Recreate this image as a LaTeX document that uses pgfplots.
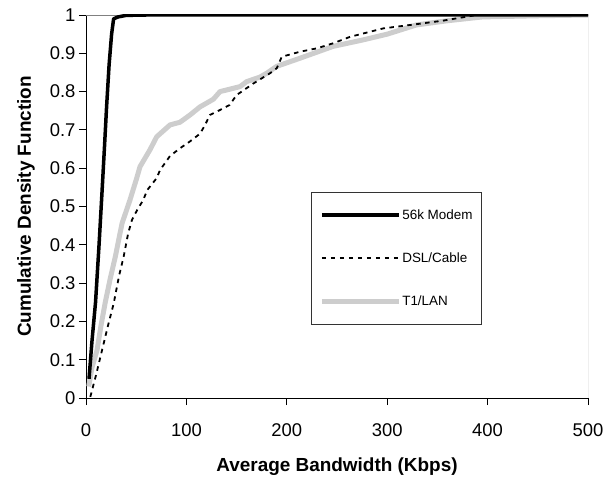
\documentclass[border=0pt]{standalone}
\usepackage{fontspec}
\setmainfont{Liberation Sans}
\usepackage{pgfplots}
\pgfplotsset{compat=1.18}

\definecolor{langray}{RGB}{205,205,205}
\definecolor{framegray}{RGB}{128,128,128}

\begin{document}
\begin{tikzpicture}
\begin{axis}[
    scale only axis,
    width=502bp, height=383bp,
    xmin=0, xmax=500, ymin=0, ymax=1,
    xtick={0,100,200,300,400,500},
    ytick={0,0.1,0.2,0.3,0.4,0.5,0.6,0.7,0.8,0.9,1},
    axis x line*=bottom, axis y line*=left,
    axis line style={black, line width=0.8bp, -},
    tick align=outside, major tick length=7bp,
    tick style={black, line width=0.8bp},
    ticklabel style={font=\fontsize{18.5}{21}\selectfont},
    /pgf/number format/assume math mode=true,
    yticklabel style={/pgf/number format/fixed, /pgf/number format/precision=1},
    xticklabel style={yshift=-15bp},
    xlabel={Average Bandwidth (Kbps)},
    ylabel={Cumulative Density Function},
    label style={font=\fontsize{19}{22}\selectfont\bfseries},
    xlabel style={at={(axis description cs:0.5,-0.1906)}, anchor=base},
    ylabel style={at={(axis description cs:-0.1096,0.5)}, anchor=base},
    legend style={at={(axis cs:224,0.538)}, anchor=north west,
        draw=black!80, line width=0.8bp, fill=white,
        font=\fontsize{13.5}{15}\selectfont,
        inner xsep=8bp, inner ysep=16bp, row sep=30bp,
        nodes={inner sep=1bp}, cells={anchor=west}},
    legend image code/.code={\draw[#1] (0bp,0bp) -- (77bp,0bp);},
    reverse legend,
]
\coordinate (bl) at (rel axis cs:0,0);
\coordinate (tr) at (rel axis cs:1,1);
\draw[framegray, line width=0.8bp] (rel axis cs:0,1) -- (rel axis cs:1,1) -- (rel axis cs:1,0);

% T1/LAN
\addplot[langray, line width=5bp, line join=round] coordinates {
(2.7,0.03) (6,0.08) (11,0.125) (15,0.19) (19.2,0.25) (24,0.31) (29.2,0.369)
(35.9,0.456) (43.8,0.517) (50.5,0.574) (53.8,0.604) (63.7,0.648) (70.4,0.682)
(83.7,0.713) (93.6,0.72) (103.6,0.739) (113.5,0.76) (126.8,0.78) (133.5,0.80)
(153.4,0.813) (160,0.826) (173.3,0.838) (180,0.848) (190,0.866) (213,0.887)
(246,0.918) (276,0.935) (300,0.95) (329,0.974) (360,0.985) (395,0.995)
(450,0.998) (500,1.0)
};
\addlegendentry{T1/LAN}

% DSL/Cable
\addplot[black, line width=1.8bp, dash pattern=on 4.5bp off 4.5bp] coordinates {
(4.3,0.003) (10,0.06) (16,0.125) (22,0.19) (27.6,0.247) (33,0.32) (37.5,0.369)
(42,0.43) (45.8,0.465) (50.8,0.49) (57,0.517) (61,0.543) (70.4,0.574)
(73.7,0.595) (83.7,0.632) (93.6,0.652) (103.6,0.67) (113.5,0.69) (118,0.71)
(123.5,0.739) (133.5,0.752) (143,0.765) (150,0.791) (166.6,0.821)
(183.3,0.848) (190,0.861) (195,0.891) (213,0.904) (230,0.913) (246,0.926)
(263,0.943) (296,0.965) (323,0.974) (355,0.985) (389,1.0) (500,1.0)
};
\addlegendentry{DSL/Cable}

% 56k Modem
\addplot[black, line width=3.5bp, line join=round] coordinates {
(3,0.05) (6,0.15) (9.5,0.25) (13,0.4) (16,0.54) (18.5,0.66) (20.5,0.76)
(23,0.87) (25.5,0.95) (27.5,0.99) (32,0.995) (40,0.999) (60,1) (500,1)
};
\addlegendentry{56k Modem}
\end{axis}
\pgfresetboundingbox
\path ([xshift=-86bp,yshift=-85bp]bl) rectangle ([xshift=19bp,yshift=15bp]tr);
\end{tikzpicture}
\end{document}
